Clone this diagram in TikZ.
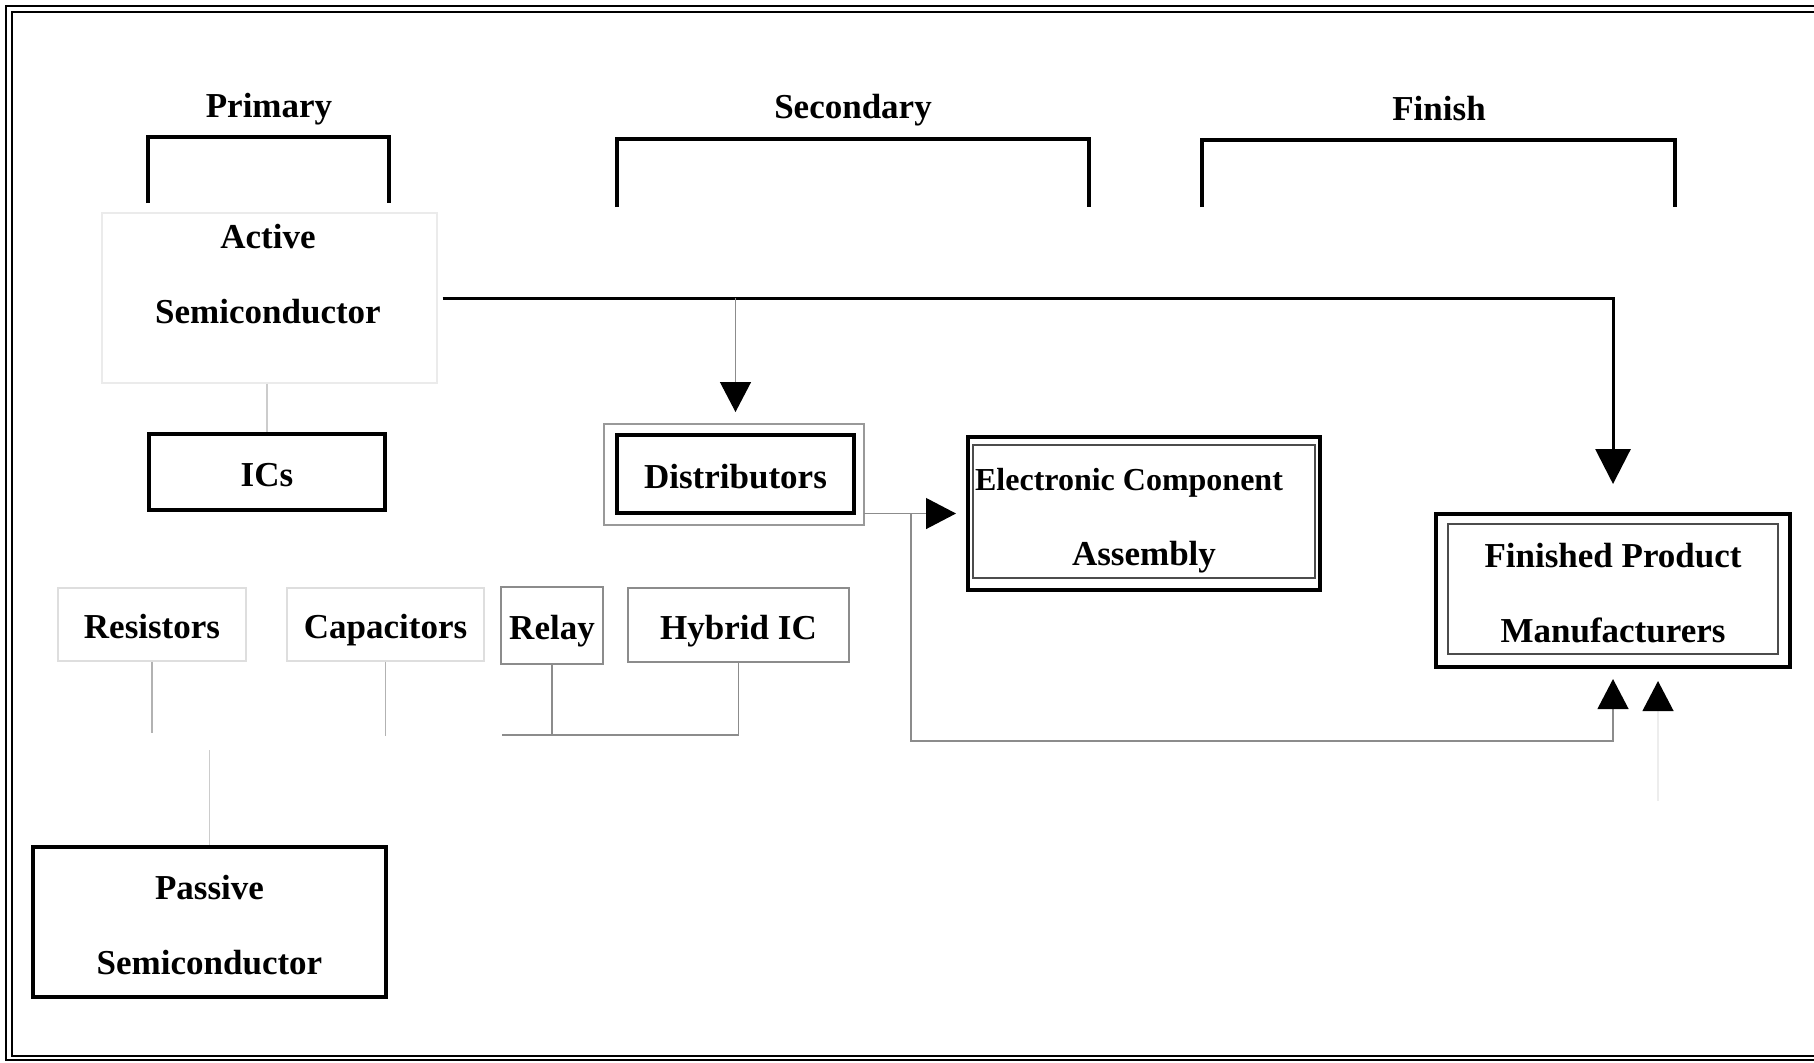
\documentclass[tikz,border=0pt]{standalone}
\usepackage{fontspec}
\setmainfont{Liberation Serif}
\usetikzlibrary{arrows.meta}

\begin{document}
\begin{tikzpicture}[x=0.5pt,y=-0.5pt,
  txt/.style={font=\fontsize{17.5}{21}\selectfont\bfseries, inner sep=0pt, align=center},
  oneline/.style={text height=15.5pt, text depth=1.5pt},
  boxthick/.style={txt, draw, line width=2pt},
  boxgrey/.style={txt, oneline, draw=black!45, line width=0.6pt},
  boxfaint/.style={txt, oneline, draw=black!13, line width=0.6pt},
  bracket/.style={line width=2pt},
  mainline/.style={line width=1.5pt, -{Triangle[width=17.5pt,length=17.5pt]}},
  greyline/.style={draw=black!45, line width=0.6pt},
  faintline/.style={draw=black!20, line width=0.6pt},
  tipd/.style={-{Triangle[width=15.5pt,length=15pt,color=black,fill=black]}}]
\useasboundingbox (0,0) rectangle (1814,1062);
\clip (0,0) rectangle (1814,1062);
% frame
\draw[line width=1pt] (6,6) rectangle (1830,1060);
\draw[line width=1pt] (12,12) rectangle (1830,1056);
% stages
\node[txt, anchor=base] (hprim) at (269,117) {Primary};
\node[txt, anchor=base] (hsec) at (853,118) {Secondary};
\node[txt, anchor=base] (hfin) at (1439,120) {Finish};
\draw[bracket] (148,203) |- (389,137) -- (389,203);
\draw[bracket] (617,207) |- (1089,139) -- (1089,207);
\draw[bracket] (1202,207) |- (1675,140) -- (1675,207);
% primary
\node[boxfaint, draw=black!8, minimum width=167.5pt, minimum height=85pt] (activebox) at (269.5,298) {};
\node[txt] (active) at (268,274) {Active\\[16.5pt]Semiconductor};
\node[boxthick, oneline, minimum width=118pt, minimum height=38pt] (ics) at (267,472) {ICs};
\node[boxfaint, minimum width=94pt, minimum height=36.5pt] (res) at (152,624.5) {Resistors};
\node[boxfaint, minimum width=98.5pt, minimum height=36.5pt] (cap) at (385.5,624.5) {Capacitors};
\node[boxgrey, minimum width=51pt, minimum height=38.5pt] (rel) at (552,625.5) {Relay};
\node[boxgrey, minimum width=110.5pt, minimum height=37pt] (hyb) at (738.5,625) {Hybrid IC};
\node[boxthick, minimum width=176.5pt, minimum height=75pt] (pas) at (209.5,922) {\rule{0pt}{15pt}Passive\\[16.5pt]Semiconductor};
% secondary
\node[boxthick, oneline, minimum width=118.5pt, minimum height=39pt] (dist) at (735.5,474) {Distributors};
\draw[draw=black!40, line width=0.7pt] ([shift={(-5.5pt,4.5pt)}]dist.north west) rectangle ([shift={(4pt,-5pt)}]dist.south east);
\node[boxthick, minimum width=176pt, minimum height=76.5pt] (eca) at (1144,513.5) {{\fontsize{16}{19}\selectfont\rule{0pt}{18pt}Electronic Component}\hspace*{15pt}\\[16.5pt]Assembly};
\draw[line width=0.6pt, draw=black!70] ([shift={(3.5pt,-5pt)}]eca.north west) rectangle ([shift={(-3.5pt,7pt)}]eca.south east);
% finish
\node[boxthick, minimum width=177pt, minimum height=76.5pt] (fpm) at (1613,590.5) {\rule{0pt}{15pt}Finished Product\\[16.5pt]Manufacturers};
\draw[line width=0.6pt, draw=black!70] ([shift={(7pt,-6pt)}]fpm.north west) rectangle ([shift={(-7pt,7.5pt)}]fpm.south east);
% connectors
\coordinate (jdist) at (dist.north |- activebox.east);
\coordinate (deout) at ([xshift=4pt]dist.east |- eca.west);
\coordinate (jfb) at ([xshift=23.5pt]deout);
\coordinate (fpmin) at ([xshift=22.5pt]fpm.south);
\coordinate (fpmtail) at ([yshift=-66pt]fpmin);
\coordinate (resend) at ([yshift=-35.5pt]res.south);
\coordinate (capend) at ([yshift=-37pt]cap.south);
\coordinate (jlow) at (502,735);
\coordinate (pastop) at ([yshift=47.5pt]pas.north);
\draw[mainline, shorten >=14pt] ([xshift=2.5pt]activebox.east) -| (fpm.north);
\draw[greyline, tipd, shorten >=10.5pt] (jdist) -- (dist.north);
\draw[greyline, tipd, shorten >=5pt] (deout) -- (eca.west);
\draw[greyline, tipd, shorten >=5pt] (jfb) -- ++(0,227.5) -| (fpm.south);
\draw[draw=black!7, line width=0.6pt, tipd, shorten >=6pt] (fpmtail) -- (fpmin);
\draw[faintline] (ics.north |- activebox.south) -- (ics.north);
\draw[draw=black!30, line width=0.6pt] (res.south) -- (resend);
\draw[draw=black!30, line width=0.6pt] (cap.south) -- (capend);
\draw[greyline] (hyb.south) |- (jlow);
\draw[greyline] (rel.south) -- (rel.south |- jlow);
\draw[faintline] (pastop) -- (pas.north);
\end{tikzpicture}
\end{document}
